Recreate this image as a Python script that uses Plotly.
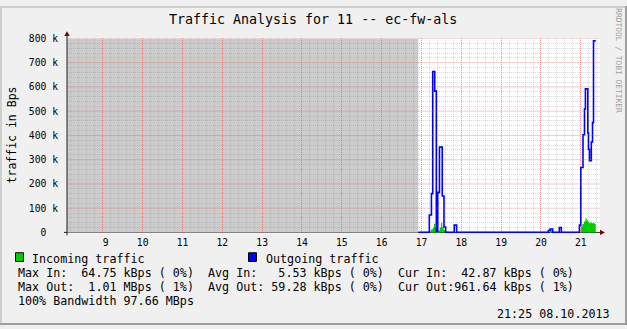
import plotly.graph_objects as go

W, H = 627, 329

# ---- data (time in hours of day, values in Bps) ----
unknown_end = 16.921
out_t = [16.921, 17.197, 17.25, 17.283, 17.333, 17.373, 17.409, 17.452, 17.522, 17.565, 17.607,
         17.823, 17.883, 20.185, 20.228, 20.295, 20.461, 20.511, 20.965, 21.0, 21.055, 21.093,
         21.116, 21.176, 21.193, 21.218, 21.264, 21.294, 21.319, 21.374]
out_v = [0, 72000, 160000, 664000, 583000, 5000, 165000, 352000, 150000, 22000, 0,
         30000, 0, 8000, 14000, 0, 20000, 0, 30000, 268000, 403000, 509000,
         592000, 410000, 343000, 296000, 373000, 453000, 790000, 790000]
in_t = [16.921, 17.2, 17.238, 17.283, 17.315, 17.348, 17.378, 17.423, 17.458, 17.49, 17.522,
        17.557, 17.597, 20.228, 20.286, 21.006, 21.043, 21.081, 21.119, 21.144, 21.174,
        21.207, 21.24, 21.273, 21.308, 21.34, 21.374]
in_v = [0, 5000, 12000, 20000, 36000, 22000, 6000, 8000, 20000, 40000, 22000,
        10000, 0, 12000, 0, 25000, 35000, 45000, 58000, 52000, 44000,
        38000, 42000, 38000, 40000, 36000, 36000]

hour_ticks = list(range(9, 22))
hour_labels = [f"{h:2d}".replace(" ", "\u00a0") for h in hour_ticks]
minor_x = [8 + k / 5 for k in range(0, 5 * 14 + 1) if k % 5 != 0]
y_ticks = [0, 100000, 200000, 300000, 400000, 500000, 600000, 700000, 800000]
y_labels = ["0\u00a0\u00a0"] + [f"{v // 1000}\u00a0k" for v in y_ticks[1:]]
minor_y = [v for v in range(0, 800001, 20000) if v % 100000 != 0]

title = "Traffic Analysis for 11 -- ec-fw-als"
y_title = "traffic in Bps"
legend_in = "Incoming traffic"
legend_out = "Outgoing traffic"
stat_rows = [
    "Max In:  64.75 kBps ( 0%)  Avg In:   5.53 kBps ( 0%)  Cur In:  42.87 kBps ( 0%)",
    "Max Out:  1.01 MBps ( 1%)  Avg Out: 59.28 kBps ( 0%)  Cur Out:961.64 kBps ( 1%)",
    "100% Bandwidth 97.66 MBps",
]
date_text = "21:25 08.10.2013"
watermark = "RRDTOOL / TOBI OETIKER"

# ---- layout geometry ----
X0_PX, X1_PX = 67, 600
Y0_PX, Y1_PX = 234.5, 33.5   # bottom (1px below zero line), top (800k)
ZERO_PX = 233.5
x_range = [8.101, 21.482]
y_range = [-4000, 800000]

def px(x):
    return x / W

def py(y):
    return 1 - y / H

FONT = "DejaVu Sans Mono"
GRID = "rgba(143,143,143,0.33)"
MGRID = "rgba(222,80,80,0.6)"
MGRID_H = "rgba(222,80,80,0.3)"

fig = go.Figure()
fig.add_trace(go.Scatter(x=in_t, y=in_v, mode="lines", line=dict(width=0, shape="hv"),
                         fill="tozeroy", fillcolor="#00cc00", hoverinfo="skip"))
fig.add_trace(go.Scatter(x=out_t, y=out_v, mode="lines",
                         line=dict(width=1.6, color="#0000ff", shape="hv"), hoverinfo="skip"))

shapes = []
# unknown-data shading
shapes.append(dict(type="rect", xref="x", yref="y", x0=x_range[0], x1=unknown_end, y0=0, y1=800000,
                   fillcolor="#cccccc", line=dict(width=0), layer="below"))
# major horizontal grid lines
for v in y_ticks[1:]:
    shapes.append(dict(type="line", xref="x", yref="y", x0=x_range[0], x1=x_range[1], y0=v, y1=v,
                       line=dict(color=MGRID_H, width=1), layer="above"))
# frame 3D
shapes += [
    dict(type="rect", xref="paper", yref="paper", x0=0, x1=1, y0=py(2), y1=1,
         fillcolor="#cfcfcf", line=dict(width=0)),
    dict(type="rect", xref="paper", yref="paper", x0=0, x1=px(2), y0=0, y1=1,
         fillcolor="#cfcfcf", line=dict(width=0)),
    dict(type="rect", xref="paper", yref="paper", x0=px(W - 2), x1=1, y0=0, y1=1,
         fillcolor="#9e9e9e", line=dict(width=0)),
    dict(type="rect", xref="paper", yref="paper", x0=0, x1=1, y0=0, y1=py(H - 2),
         fillcolor="#9e9e9e", line=dict(width=0)),
]
# axes
shapes += [
    dict(type="line", xref="paper", yref="paper", x0=px(64), x1=px(601), y0=py(ZERO_PX), y1=py(ZERO_PX),
         line=dict(color="#1f1f1f", width=1), layer="below"),
    dict(type="line", xref="paper", yref="paper", x0=px(67), x1=px(67), y0=py(236.5), y1=py(30),
         line=dict(color="#1f1f1f", width=1)),
    dict(type="path", xref="paper", yref="paper",
         path=f"M {px(64.3)} {py(31)} L {px(69.7)} {py(31)} L {px(67)} {py(26)} Z",
         fillcolor="#7f0000", line=dict(width=0)),
    dict(type="path", xref="paper", yref="paper",
         path=f"M {px(600)} {py(230.7)} L {px(600)} {py(236.3)} L {px(605)} {py(ZERO_PX)} Z",
         fillcolor="#7f0000", line=dict(width=0)),
]
# legend swatches
shapes += [
    dict(type="rect", xref="paper", yref="paper", x0=px(15.5), x1=px(23.5), y0=py(263.5), y1=py(254.5),
         fillcolor="#00cc00", line=dict(color="#000000", width=1)),
    dict(type="rect", xref="paper", yref="paper", x0=px(248.5), x1=px(256.5), y0=py(263.5), y1=py(254.5),
         fillcolor="#0000ff", line=dict(color="#000000", width=1)),
]

def nb(s):
    return s.replace(" ", "\u00a0")

ann = []
ann.append(dict(text=nb(title), x=px(313), y=py(14), xref="paper", yref="paper",
                xanchor="center", yanchor="middle", showarrow=False,
                font=dict(family=FONT, size=13.3, color="#000")))
ann.append(dict(text=nb(y_title), x=px(11.5), y=py(133), xref="paper", yref="paper",
                xanchor="center", yanchor="middle", showarrow=False, textangle=-90,
                font=dict(family=FONT, size=11.5, color="#000")))
ann.append(dict(text=nb(watermark), x=px(618.5), y=py(56.5), xref="paper", yref="paper",
                xanchor="center", yanchor="middle", showarrow=False, textangle=90,
                font=dict(family=FONT, size=7.9, color="#9e9e9e")))
ann.append(dict(text=nb(legend_in), x=px(30), y=py(260.5), xref="paper", yref="paper",
                xanchor="left", yanchor="middle", showarrow=False,
                font=dict(family=FONT, size=11.7, color="#000")))
ann.append(dict(text=nb(legend_out), x=px(263.5), y=py(260.5), xref="paper", yref="paper",
                xanchor="left", yanchor="middle", showarrow=False,
                font=dict(family=FONT, size=11.7, color="#000")))
for i, row in enumerate(stat_rows):
    ann.append(dict(text=nb(row), x=px(16), y=py(275.5 + 14.2 * i), xref="paper", yref="paper",
                    xanchor="left", yanchor="middle", showarrow=False,
                    font=dict(family=FONT, size=11.7, color="#000")))
ann.append(dict(text=nb(date_text), x=px(611.5), y=py(318), xref="paper", yref="paper",
                xanchor="right", yanchor="middle", showarrow=False,
                font=dict(family=FONT, size=11.7, color="#000")))

fig.update_layout(
    width=W, height=H, margin=dict(l=0, r=0, t=0, b=0),
    paper_bgcolor="#f0f0f0", plot_bgcolor="#ffffff",
    showlegend=False, shapes=shapes, annotations=ann,
    xaxis=dict(domain=[px(X0_PX), px(X1_PX)], range=x_range, tickmode="array",
               tickvals=hour_ticks, ticktext=hour_labels, showline=False, zeroline=False,
               showgrid=True, gridcolor=MGRID, griddash="1px,1px", gridwidth=1,
               ticks="", ticklabelstandoff=2,
               tickfont=dict(family=FONT, size=9.7, color="#000"),
               minor=dict(tickmode="array", tickvals=minor_x, showgrid=True, gridcolor=GRID,
                          griddash="1px,1px", gridwidth=1, ticks="")),
    yaxis=dict(domain=[py(Y0_PX), py(Y1_PX)], range=y_range, tickmode="array",
               tickvals=y_ticks, ticktext=y_labels, showline=False, zeroline=False,
               showgrid=False,
               ticks="", ticklabelstandoff=8,
               tickfont=dict(family=FONT, size=9.7, color="#000"),
               minor=dict(tickmode="array", tickvals=minor_y, showgrid=True, gridcolor=GRID,
                          griddash="1px,1px", gridwidth=1, ticks="")),
)

fig.write_html("out.html")
